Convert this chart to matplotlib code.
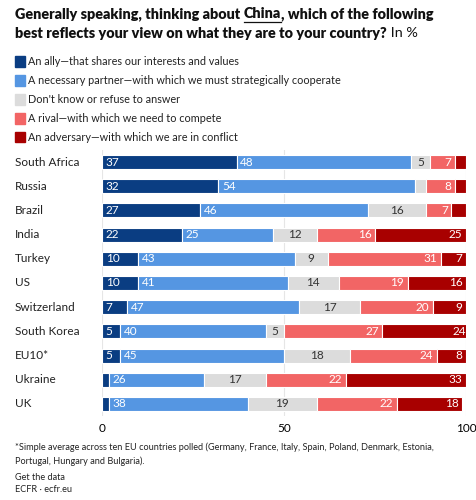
import matplotlib.pyplot as plt
import matplotlib.transforms as mtransforms
from matplotlib.patches import Rectangle

# Data
countries = ["South Africa", "Russia", "Brazil", "India", "Turkey", "US",
             "Switzerland", "South Korea", "EU10*", "Ukraine", "UK"]
ally = [37, 32, 27, 22, 10, 10, 7, 5, 5, 2, 2]
partner = [48, 54, 46, 25, 43, 41, 47, 40, 45, 26, 38]
dont_know = [5, 3, 16, 12, 9, 14, 17, 5, 18, 17, 19]
rival = [7, 8, 7, 16, 31, 19, 20, 27, 24, 22, 22]
adversary = [3, 3, 4, 25, 7, 16, 9, 24, 8, 33, 18]

series_labels = [
    "An ally\u2014that shares our interests and values",
    "A necessary partner\u2014with which we must strategically cooperate",
    "Don't know or refuse to answer",
    "A rival\u2014with which we need to compete",
    "An adversary\u2014with which we are in conflict",
]
colors = ["#0a3d82", "#5596e2", "#dcdcdc", "#f26565", "#a80000"]
text_colors = ["white", "white", "#333333", "white", "white"]
aligns = ["left", "left", "center", "right", "right"]
xticks = [0, 50, 100]

FONT = "Lato"
W, H = 476, 500
fig = plt.figure(figsize=(W / 100, H / 100), dpi=100)

def fx(px):
    return px / W

def fy(py):
    return 1 - py / H

ax = fig.add_axes([fx(102), fy(416), fx(364), 266 / H])
series = [ally, partner, dont_know, rival, adversary]
rows = list(range(len(countries)))
left = [0] * len(countries)
for vals, col, tc, al in zip(series, colors, text_colors, aligns):
    ax.barh(rows, vals, left=left, height=0.58, color=col,
            edgecolor="white", linewidth=0.8, zorder=3)
    for r, (l, v) in enumerate(zip(left, vals)):
        if v < 5:
            continue  # small segments are left unlabelled
        if al == "left":
            x, ha = l + 1.0, "left"
        elif al == "right":
            x, ha = l + v - 1.0, "right"
        else:
            x, ha = l + v / 2, "center"
        ax.text(x, r, str(v), ha=ha, va="center", color=tc,
                fontsize=8.5, fontfamily=FONT, zorder=4)
    left = [a + b for a, b in zip(left, vals)]

ax.set_xlim(0, 100)
ax.set_ylim(len(countries) - 0.5, -0.5)
ax.set_xticks(xticks)
ax.set_xticklabels([str(t) for t in xticks], fontfamily=FONT, fontsize=8.5)
ax.set_yticks([])
ax.tick_params(axis="x", length=0, pad=5)
ax.grid(axis="x", color="#e6e6e6", linewidth=0.8, zorder=0)
for s in ax.spines.values():
    s.set_visible(False)

# country labels (figure x, data y)
trans = mtransforms.blended_transform_factory(fig.transFigure, ax.transData)
for r, name in enumerate(countries):
    fig.text(fx(15), r, name, transform=trans, ha="left", va="center",
             fontsize=8.5, fontfamily=FONT, color="#222222")

# title with underlined "China"
fig.canvas.draw()
renderer = fig.canvas.get_renderer()
tsize = 10.4
t1a = fig.text(fx(15), fy(14), "Generally speaking, thinking about ", fontsize=tsize,
               fontweight="heavy", fontfamily=FONT, va="center", color="#111111")
w1 = t1a.get_window_extent(renderer).width
t1b = fig.text(fx(15) + w1 / W, fy(14), "China", fontsize=tsize, fontweight="heavy",
               fontfamily=FONT, va="center", color="#111111")
bb = t1b.get_window_extent(renderer)
fig.add_artist(plt.Line2D([bb.x0 / W, bb.x1 / W], [fy(22), fy(22)],
                          transform=fig.transFigure, color="#111111", linewidth=0.9))
fig.text(bb.x1 / W, fy(14), ", which of the following", fontsize=tsize,
         fontweight="heavy", fontfamily=FONT, va="center", color="#111111")
t2a = fig.text(fx(15), fy(33), "best reflects your view on what they are to your country?",
               fontsize=tsize, fontweight="heavy", fontfamily=FONT, va="center",
               color="#111111")
w2 = t2a.get_window_extent(renderer).width
fig.text(fx(15) + w2 / W, fy(33), " In %", fontsize=tsize, fontfamily=FONT,
         va="center", color="#111111")

# legend
for i, (lab, col) in enumerate(zip(series_labels, colors)):
    yc = 61.5 + i * 19
    fig.add_artist(Rectangle((fx(15), fy(yc + 5)), 10 / W, 10 / H,
                             transform=fig.transFigure, color=col))
    fig.text(fx(28), fy(yc), lab, fontsize=7.8, fontfamily=FONT, va="center",
             color="#222222")

# footnotes
foot = [
    (447, "*Simple average across ten EU countries polled (Germany, France, Italy, Spain, Poland, Denmark, Estonia,"),
    (461, "Portugal, Hungary and Bulgaria)."),
    (477, "Get the data"),
    (490, "ECFR \u00b7 ecfr.eu"),
]
for y, s in foot:
    fig.text(fx(15), fy(y), s, fontsize=6.6, fontfamily=FONT, va="center",
             color="#222222")

fig.savefig("out.png", dpi=100)
